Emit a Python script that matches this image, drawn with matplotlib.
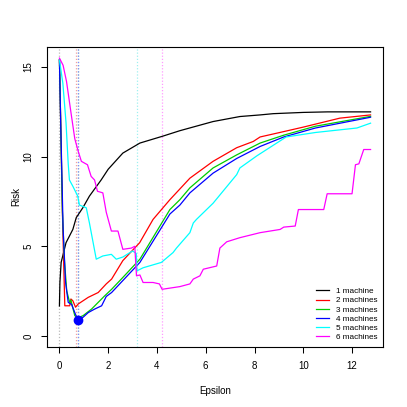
import numpy as np
import matplotlib
matplotlib.use("Agg")
import matplotlib.pyplot as plt

plt.rcParams['font.family'] = ['Liberation Sans', 'DejaVu Sans']

# Risk curves, one per number of machines
x_1 = [0, 0.02, 0.07, 0.27, 0.55, 0.69, 0.96, 1.23, 1.71, 2.0, 2.6, 3.3, 4.25,
       4.94, 6.3, 7.4, 8.23, 8.77, 10.0, 11.0, 12.76]
y_1 = [1.67, 3.0, 4.1, 5.2, 5.94, 6.6, 7.15, 7.8, 8.7, 9.3, 10.2, 10.76, 11.15,
       11.45, 11.96, 12.24, 12.33, 12.4, 12.47, 12.5, 12.5]

x_2 = [0, 0.05, 0.12, 0.17, 0.22, 0.42, 0.47, 0.55, 0.66, 0.77, 1.18, 1.59, 1.92, 2.14,
       2.6, 3.29, 3.84, 4.53, 4.94, 5.35, 6.3, 7.27, 7.95, 8.23, 9.2, 10.0, 11.5, 12.76]
y_2 = [15.4, 12.0, 7.0, 4.3, 1.68, 1.68, 2.06, 1.96, 1.6, 1.78, 2.15, 2.42, 2.9, 3.17,
       4.2, 5.2, 6.5, 7.6, 8.2, 8.8, 9.74, 10.5, 10.85, 11.1, 11.4, 11.65, 12.15, 12.33]

x_3 = [0, 0.05, 0.12, 0.2, 0.3, 0.42, 0.47, 0.56, 0.63, 0.75, 0.97, 1.32, 1.59, 1.86,
       2.14, 2.6, 3.3, 4.53, 4.94, 5.35, 6.3, 7.27, 8.23, 9.2, 10.5, 12.76]
y_3 = [15.4, 12.0, 7.0, 4.3, 2.5, 1.87, 2.0, 1.5, 1.13, 1.0, 1.13, 1.5, 1.87, 2.24,
       2.6, 3.26, 4.28, 7.05, 7.6, 8.26, 9.37, 10.1, 10.76, 11.2, 11.7, 12.25]

x_4 = [0, 0.05, 0.15, 0.25, 0.36, 0.5, 0.63, 0.75, 0.97, 1.18, 1.45, 1.73, 1.92, 2.14,
       3.3, 4.53, 4.94, 5.35, 6.3, 7.27, 8.23, 9.2, 10.5, 12.76]
y_4 = [15.4, 12.0, 6.0, 3.0, 1.87, 1.75, 1.3, 0.9, 1.04, 1.3, 1.5, 1.68, 2.2, 2.42,
       4.1, 6.8, 7.3, 7.98, 9.08, 9.9, 10.57, 11.1, 11.6, 12.2]

x_5 = [0, 0.14, 0.27, 0.36, 0.41, 0.55, 0.75, 0.82, 1.1, 1.23, 1.51, 1.78, 2.13, 2.33,
       2.6, 3.0, 3.15, 3.18, 3.43, 4.18, 4.66, 4.8, 5.35, 5.49, 5.62, 6.3, 7.27, 7.4,
       8.1, 9.3, 10.5, 12.2, 12.76]
y_5 = [15.4, 14.1, 11.9, 9.6, 8.7, 8.35, 7.8, 7.3, 7.15, 6.3, 4.28, 4.46, 4.55, 4.28,
       4.4, 4.74, 4.6, 3.63, 3.8, 4.1, 4.65, 4.9, 5.76, 6.3, 6.5, 7.4, 9.0, 9.37,
       10.05, 11.1, 11.35, 11.6, 11.87]

x_6 = [0, 0.15, 0.29, 0.49, 0.63, 0.77, 0.9, 1.15, 1.3, 1.44, 1.56, 1.78, 1.92, 2.13,
       2.4, 2.6, 2.95, 3.09, 3.16, 3.3, 3.43, 3.84, 4.1, 4.21, 4.94, 5.35, 5.49, 5.76,
       5.9, 6.45, 6.58, 6.86, 7.4, 8.23, 9.05, 9.2, 9.67, 9.8, 10.84, 10.98, 12.0,
       12.14, 12.28, 12.48, 12.76]
y_6 = [15.5, 15.1, 14.2, 12.3, 11.0, 10.3, 9.74, 9.55, 8.9, 8.7, 8.07, 7.98, 6.9, 5.85,
       5.85, 4.83, 4.9, 5.0, 3.35, 3.4, 2.98, 2.98, 2.9, 2.6, 2.75, 2.9, 3.17, 3.35,
       3.72, 3.9, 4.9, 5.25, 5.48, 5.76, 5.94, 6.07, 6.13, 7.05, 7.05, 7.93, 7.93,
       9.55, 9.6, 10.4, 10.4]

labels = ["1 machine", "2 machines", "3 machines", "4 machines", "5 machines", "6 machines"]
colors = ["black", "#FF0000", "#00CD00", "#0000FF", "#00FFFF", "#FF00FF"]
vline_colors = ["#BBBBBB", "#F4A0A0", "#9AD89A", "#7F8FFF", "#A0F0F0", "#FF9BFF"]

xs = [x_1, x_2, x_3, x_4, x_5, x_6]
ys = [y_1, y_2, y_3, y_4, y_5, y_6]

fig = plt.figure(figsize=(4.07, 4.07), dpi=100)
ax = fig.add_axes([47 / 407, 1 - 347 / 407, 336 / 407, 300 / 407])

# dotted line at the minimum of each curve
for x, y, vc in zip(xs, ys, vline_colors):
    i = int(np.argmin(y))
    ax.axvline(x[i], color=vc, linestyle=(0, (1, 1.5)), linewidth=0.9, zorder=1)

for x, y, c, lab in zip(xs, ys, colors, labels):
    ax.plot(x, y, color=c, linewidth=0.9, label=lab, zorder=2)

# overall minimum
best = min(range(len(ys)), key=lambda k: min(ys[k]))
bi = int(np.argmin(ys[best]))
ax.plot(xs[best][bi], ys[best][bi], 'o', color="#0000FF", markersize=6, zorder=3)

ax.set_xlim(-0.51, 13.27)
ax.set_ylim(-0.62, 16.12)
ax.set_xticks([0, 2, 4, 6, 8, 10, 12])
ax.set_yticks([0, 5, 10, 15])
ax.tick_params(direction='out', length=4.3, width=0.75, labelsize=7, pad=5.5)
for lbl in ax.get_yticklabels():
    lbl.set_rotation(90)
    lbl.set_va('center')
for s in ax.spines.values():
    s.set_linewidth(0.8)

ax.set_xlabel("Epsilon", fontsize=7, labelpad=11)
ax.set_ylabel("Risk", fontsize=7, labelpad=1.5)

ax.legend(loc='lower right', frameon=False, fontsize=5.9, handlelength=1.7,
          handletextpad=0.75, labelspacing=0.18, borderaxespad=0.3)

fig.savefig("out.png", dpi=100)
